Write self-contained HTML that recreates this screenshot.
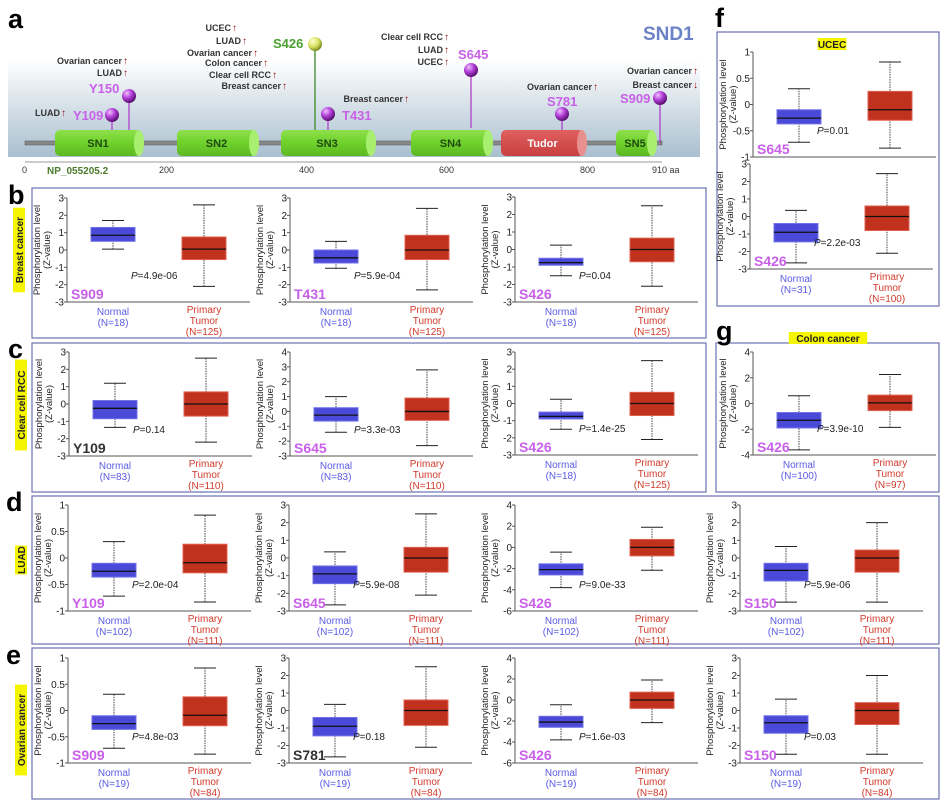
<!DOCTYPE html>
<html><head><meta charset="utf-8"><style>
body{margin:0;background:#fff;}
svg{display:block;font-family:"Liberation Sans",sans-serif;}
</style></head><body>
<svg id="fig" width="947" height="807" viewBox="0 0 947 807" xmlns="http://www.w3.org/2000/svg">
<defs>
<linearGradient id="bg" x1="0" y1="0" x2="0" y2="1"><stop offset="0" stop-color="#fff"/><stop offset="1" stop-color="#a9bfcf"/></linearGradient>
<linearGradient id="grn" x1="0" y1="0" x2="0" y2="1"><stop offset="0" stop-color="#8ee04a"/><stop offset="0.5" stop-color="#6fd12b"/><stop offset="1" stop-color="#5cb823"/></linearGradient>
<linearGradient id="red" x1="0" y1="0" x2="0" y2="1"><stop offset="0" stop-color="#e06060"/><stop offset="1" stop-color="#c84040"/></linearGradient>
<radialGradient id="pball" cx="0.35" cy="0.3" r="0.7"><stop offset="0" stop-color="#f0c0ff"/><stop offset="0.5" stop-color="#b340d8"/><stop offset="1" stop-color="#5a1070"/></radialGradient>
<radialGradient id="yball" cx="0.35" cy="0.3" r="0.7"><stop offset="0" stop-color="#ffffd0"/><stop offset="0.6" stop-color="#d8e060"/><stop offset="1" stop-color="#7a8a20"/></radialGradient>
</defs>
<g id="panelA">
<rect x="8" y="60" width="692" height="97" fill="url(#bg)"/>
<text x="8" y="28" font-size="27" font-weight="bold">a</text>
<text x="643" y="40" font-size="19" font-weight="bold" fill="#6b82c6">SND1</text>
<rect x="25" y="141" width="637" height="4" fill="#888" stroke="#555" stroke-width="0.5"/>
<line x1="25" y1="162" x2="662" y2="162" stroke="#999"/>
<g font-size="9" fill="#333">
<text x="22" y="173">0</text>
<text x="159" y="173">200</text>
<text x="299" y="173">400</text>
<text x="439" y="173">600</text>
<text x="580" y="173">800</text>
<text x="652" y="173">910 aa</text>
</g>
<text x="47" y="174" font-size="10" font-weight="bold" fill="#4a7a2a">NP_055205.2</text>
<g id="domains"></g>
<g id="pins"></g>
<g id="cancerLabels" font-size="9" font-weight="bold" fill="#333"></g>
</g>
<g id="frames" fill="none" stroke="#6a72b0" stroke-width="1.2">
<rect x="32" y="188" width="674" height="150"/>
<rect x="32" y="343" width="674" height="149"/>
<rect x="32" y="496" width="907" height="148"/>
<rect x="32" y="648" width="907" height="151"/>
<rect x="717" y="32" width="222" height="274"/>
<rect x="716" y="343" width="223" height="149"/>
</g>
<g font-size="27" font-weight="bold">
<text x="8" y="204">b</text>
<text x="8" y="358">c</text>
<text x="6" y="511">d</text>
<text x="6" y="664">e</text>
<text x="715" y="27">f</text>
<text x="716" y="340">g</text>
</g>
<g id="cancerTags"></g>
<g id="plots"></g>
</svg>
<script>
// ---- data ----
const normalStats=[
[0.05,0.5,0.85,1.3,1.7],[-1.05,-0.75,-0.45,0,0.5],[-1.5,-0.9,-0.75,-0.5,0.25],
[-1.35,-0.85,-0.25,0.2,1.2],[-1.4,-0.65,-0.25,0.25,1.0],[-1.5,-0.9,-0.75,-0.5,0.25],
[-0.72,-0.36,-0.25,-0.1,0.31],[-2.65,-1.45,-0.9,-0.45,0.35],[-3.8,-2.6,-2.1,-1.55,-0.45],[-2.5,-1.3,-0.7,-0.3,0.65],
[-0.72,-0.36,-0.25,-0.1,0.31],[-2.65,-1.45,-0.9,-0.4,0.35],[-3.8,-2.6,-2.1,-1.55,-0.45],[-2.5,-1.3,-0.7,-0.3,0.65],
[-0.72,-0.37,-0.26,-0.1,0.3],[-2.65,-1.45,-0.9,-0.4,0.35],[-3.6,-1.9,-1.3,-0.7,0.6]];
const tumorStats=[
[-2.1,-0.55,0.05,0.75,2.6],[-2.3,-0.55,0,0.85,2.4],[-2.1,-0.7,0,0.65,2.5],
[-2.2,-0.7,0,0.7,2.65],[-2.3,-0.6,0,0.9,2.8],[-2.1,-0.7,0,0.65,2.5],
[-0.83,-0.28,-0.09,0.26,0.81],[-2.1,-0.8,0,0.6,2.5],[-2.15,-0.8,0,0.75,1.9],[-2.5,-0.8,0,0.45,2.0],
[-0.83,-0.29,-0.09,0.26,0.81],[-2.1,-0.85,0,0.6,2.5],[-2.15,-0.8,0,0.75,1.9],[-2.5,-0.8,0,0.45,2.0],
[-0.83,-0.3,-0.1,0.25,0.81],[-2.1,-0.8,0,0.6,2.45],[-1.85,-0.55,0.05,0.65,2.25]];
const yMins=[-3,-3,-3,-3,-3,-3,-1,-3,-6,-3,-1,-3,-6,-3,-1,-3,-4];
const yMaxs=[3,3,3,3,4,3,1,3,4,3,1,3,4,3,1,3,4];
const tickSteps=[1,1,1,1,1,1,0.5,1,2,1,0.5,1,2,1,0.5,1,2];
const sites=["S909","T431","S426","Y109","S645","S426","Y109","S645","S426","S150","S909","S781","S426","S150","S645","S426","S426"];
const siteDark=[0,0,0,1,0,0,0,0,0,0,0,1,0,0,0,0,0];
const pValues=["4.9e-06","5.9e-04","0.04","0.14","3.3e-03","1.4e-25","2.0e-04","5.9e-08","9.0e-33","5.9e-06","4.8e-03","0.18","1.6e-03","0.03","0.01","2.2e-03","3.9e-10"];
const nNormal=[18,18,18,83,83,18,102,102,102,102,19,19,19,19,31,31,100];
const nTumor=[125,125,125,110,110,125,111,111,111,111,84,84,84,84,100,100,97];
// ---- layout (not data) ----
const layout=[[67,198,302],[290,198,302],[515,197,302],
[69,352,456],[290,352,456],[515,352,455],
[68,505,611],[289,505,611],[515,505,611],[740,505,611],
[68,658,763],[289,658,763],[515,658,763],[740,658,763],
[753,52,157],[750,164,269],[753,352,455]];
const noXLabels=[14];
const NS="http://www.w3.org/2000/svg";
function mk(tag,attrs,parent,txt){const e=document.createElementNS(NS,tag);for(const k in attrs)e.setAttribute(k,attrs[k]);if(txt!==undefined)e.textContent=txt;parent.appendChild(e);return e;}
const plots=document.getElementById('plots');
layout.forEach((L,i)=>{
  const ax=L[0],top=L[1],bot=L[2];
  const g=mk('g',{},plots);
  
  
  const y=v=>bot-(v-yMins[i])/(yMaxs[i]-yMins[i])*(bot-top);
  const ax1=mk('line',{x1:ax,y1:top,x2:ax,y2:bot,stroke:'#555','stroke-width':1},g);
  
  
  const ax2=mk('line',{x1:ax,y1:bot,x2:ax+183,y2:bot,stroke:'#555','stroke-width':1},g);
  
  
  for(let v=yMins[i];v<=yMaxs[i]+1e-9;v+=tickSteps[i]){
    const yy=y(v);
    mk('line',{x1:ax-3,y1:yy,x2:ax,y2:yy,stroke:'#555'},g);
    const t=mk('text',{x:ax-3,y:yy+3.5,'font-size':10,'text-anchor':'end',fill:'#222'},g,String(Math.round(v*10)/10));
    
    
  }
  const mid=(top+bot)/2;
  const yt=mk('text',{x:ax-27,y:mid,'font-size':9.5,'text-anchor':'middle',fill:'#222',transform:`rotate(-90 ${ax-27} ${mid})`},g,'Phosphorylation level');
  
  
  mk('text',{x:ax-17,y:mid,'font-size':9.5,'text-anchor':'middle',fill:'#222',transform:`rotate(-90 ${ax-17} ${mid})`},g,'(Z-value)');
  const groups=[[normalStats[i],ax+46,'#4b4ad8','#7070e8','normal'],[tumorStats[i],ax+137,'#c0311e','#e06050','tumor']];
  groups.forEach(G=>{
    const s=G[0],cx=G[1];
    const w=mk('line',{x1:cx,y1:y(s[0]),x2:cx,y2:y(s[4]),stroke:'#444','stroke-dasharray':'1.5,1','stroke-width':1},g);
    
    
    mk('line',{x1:cx-11,y1:y(s[0]),x2:cx+11,y2:y(s[0]),stroke:'#222'},g);
    mk('line',{x1:cx-11,y1:y(s[4]),x2:cx+11,y2:y(s[4]),stroke:'#222'},g);
    const b=mk('rect',{x:cx-22,y:y(s[3]),width:44,height:y(s[1])-y(s[3]),fill:G[2],stroke:G[3],'stroke-width':1},g);
    
    
    mk('line',{x1:cx-22,y1:y(s[2]),x2:cx+22,y2:y(s[2]),stroke:'#111','stroke-width':1.3},g);
  });
  if(!noXLabels.includes(i)){
    const nx=ax+46,tx=ax+137;
    const n1=mk('text',{x:nx,y:bot+13,'font-size':10,'text-anchor':'middle',fill:'#5a5ae6'},g,'Normal');
    
    
    mk('text',{x:nx,y:bot+24,'font-size':10,'text-anchor':'middle',fill:'#5a5ae6'},g,'(N='+nNormal[i]+')');
    const t1=mk('text',{x:tx,y:bot+11,'font-size':10,'text-anchor':'middle',fill:'#d03a2a'},g,'Primary');
    
    
    mk('text',{x:tx,y:bot+22,'font-size':10,'text-anchor':'middle',fill:'#d03a2a'},g,'Tumor');
    mk('text',{x:tx,y:bot+33,'font-size':10,'text-anchor':'middle',fill:'#d03a2a'},g,'(N='+nTumor[i]+')');
  }
  const st=mk('text',{x:ax+4,y:bot-3,'font-size':14,'font-weight':'bold',fill:siteDark[i]?'#333':'#c860e8'},g,sites[i]);
  
  
  const p=mk('text',{x:ax+64,y:bot-23,'font-size':10,fill:'#222'},g);
  
  
  mk('tspan',{'font-style':'italic'},p,'P');
  mk('tspan',{},p,'='+pValues[i]);
});
// cancer side tags
const tagG=document.getElementById('cancerTags');
[["Breast cancer",20,250,true],["Clear cell RCC",22,405,true],["LUAD",22,560,true],["Ovarian cancer",22,730,true],["UCEC",832,45,false],["Colon cancer",828,339,false]].forEach(T=>{
  const g=mk('g',{transform:T[3]?`rotate(-90 ${T[1]} ${T[2]})`:''},tagG);
  
  
  const w=T[0].length*6.2+4;
  mk('rect',{x:T[1]-w/2,y:T[2]-7,width:w,height:12,fill:'#f5f500'},g);
  mk('text',{x:T[1],y:T[2]+3,'font-size':10,'font-weight':'bold','text-anchor':'middle',fill:'#222'},g,T[0]);
});
// domains
const dom=document.getElementById('domains');
[["SN1",55,141,0],["SN2",177,256,0],["SN3",281,373,0],["SN4",411,490,0],["Tudor",501,584,1],["SN5",616,654,0]].forEach(D=>{
  const g=mk('g',{},dom);
  
  
  mk('rect',{x:D[1],y:130,width:D[2]-D[1],height:26,rx:5,fill:D[3]?'url(#red)':'url(#grn)'},g);
  mk('ellipse',{cx:D[2]-2,cy:143,rx:5,ry:13,fill:D[3]?'#e89090':'#a8ef70'},g);
  mk('text',{x:(D[1]+D[2])/2,y:147,'font-size':11,'font-weight':'bold','text-anchor':'middle',fill:D[3]?'#fff':'#1f4a10'},g,D[0]);
});
const pins=document.getElementById('pins');
[["Y109",112,115,130,73,120,0],["Y150",129,96,130,89,93,0],["S426",315,44,130,273,48,1],["T431",328,114,130,342,120,0],["S645",471,70,128,458,59,0],["S781",562,114,130,547,106,0],["S909",660,98,143,620,103,0]].forEach(P=>{
  const g=mk('g',{},pins);
  
  
  mk('line',{x1:P[1],y1:P[2],x2:P[1],y2:P[3],stroke:P[6]?'#3a8a2a':'#b040c8','stroke-width':1.3},g);
  mk('circle',{cx:P[1],cy:P[2],r:7,fill:P[6]?'url(#yball)':'url(#pball)'},g);
  mk('text',{x:P[4],y:P[5],'font-size':13,'font-weight':'bold',fill:P[6]?'#4aa030':'#c860e8'},g,P[0]);
});
const cl=document.getElementById('cancerLabels');
[["LUAD",60,116,"↑"],["Ovarian cancer",122,64,"↑"],["LUAD",122,76,"↑"],
["UCEC",231,31,"↑"],["LUAD",241,44,"↑"],["Ovarian cancer",252,56,"↑"],["Colon cancer",262,66,"↑"],["Clear cell RCC",271,78,"↑"],["Breast cancer",281,89,"↑"],
["Breast cancer",403,102,"↑"],["Clear cell RCC",443,40,"↑"],["LUAD",443,53,"↑"],["UCEC",443,65,"↑"],
["Ovarian cancer",592,90,"↑"],["Ovarian cancer",692,74,"↑"],["Breast cancer",692,88,"↓"]].forEach(C=>{
  const t=mk('text',{x:C[1],y:C[2],'text-anchor':'end'},cl,C[0]);
  
  
  mk('text',{x:C[1]+1,y:C[2],fill:'#a01010','font-size':10},cl,C[3]);
});
</script>
</body></html>
